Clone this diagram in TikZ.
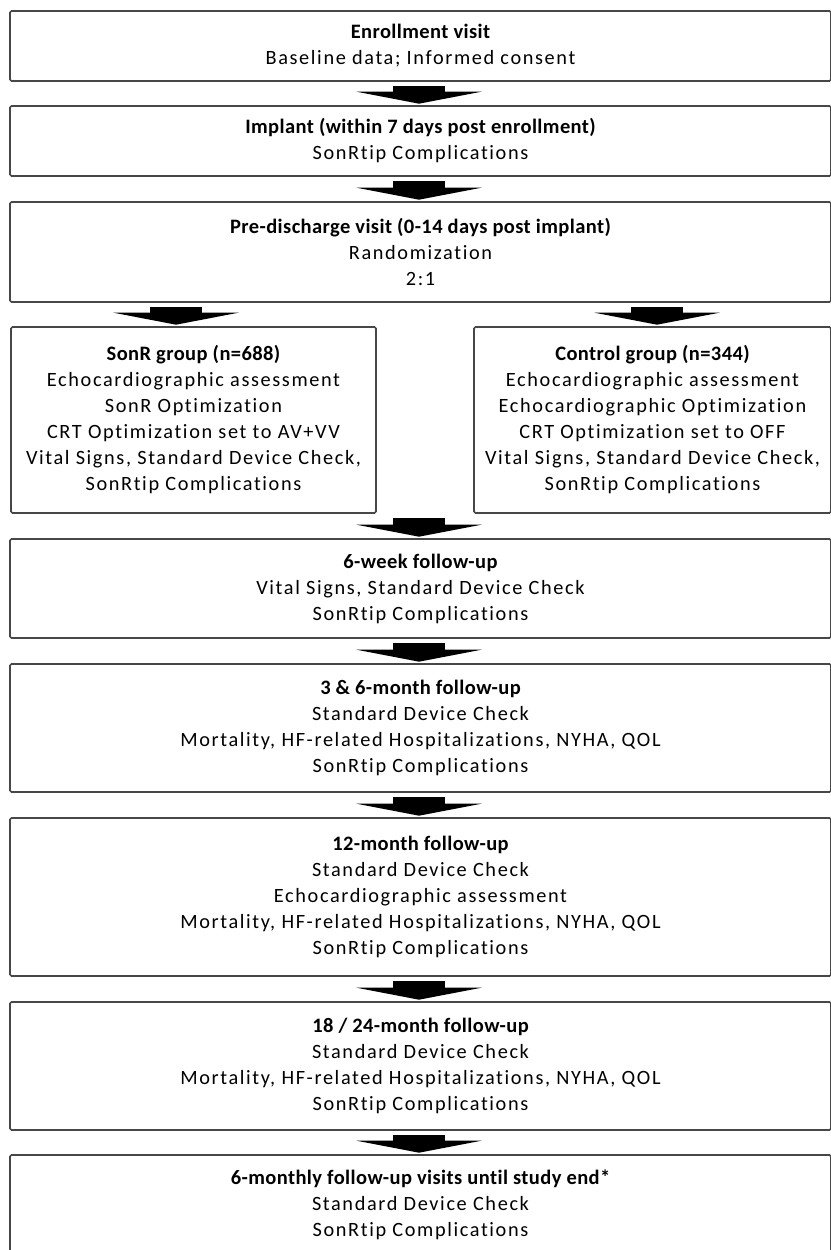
\documentclass[tikz,border=0pt]{standalone}
\usepackage{fontspec}
\setmainfont[Ligatures=NoCommon,LetterSpace=8]{Carlito}
\newfontfamily\ttlfont[Ligatures=NoCommon,LetterSpace=2]{Carlito}
\usetikzlibrary{arrows.meta}
\newcommand{\ttl}[1]{{\ttlfont\fontsize{20.5}{26}\selectfont\bfseries #1}}
\begin{document}
\begin{tikzpicture}[x=1pt,y=-1pt,
  box/.style={draw=black!72, line width=1.6pt, rounded corners=1.5pt, fill=white,
    align=center, inner sep=0pt, font=\fontsize{20.3}{26}\selectfont},
  bigarrow/.style={line width=52pt, black,
    -{Triangle[width=125pt,length=12pt,line width=0pt]},
    shorten <=4.5pt, shorten >=1.5pt}]
\useasboundingbox (0,0) rectangle (830,1250);
\fill[white] (0,0) rectangle (830,1250);
% full-width boxes: x 10 .. 831
\node[box, minimum width=821pt, minimum height=70pt] (n1) at (420.5,46)
  {\ttl{Enrollment visit}\\Baseline data; Informed consent};
\node[box, minimum width=821pt, minimum height=70pt] (n2) at (420.5,141)
  {\ttl{Implant (within 7 days post enrollment)}\\SonRtip Complications};
\node[box, minimum width=821pt, minimum height=100pt] (n3) at (420.5,252)
  {\ttl{Pre-discharge visit (0-14 days post implant)}\\Randomization\\2:1};
\node[box, minimum width=365pt, minimum height=186pt] (nL) at (193.5,420)
  {\ttl{SonR group (n=688)}\\Echocardiographic assessment\\SonR Optimization\\CRT Optimization set to AV+VV\\Vital Signs, Standard Device Check,\\SonRtip Complications};
\node[box, minimum width=357pt, minimum height=186pt] (nR) at (652.5,420)
  {\ttl{Control group (n=344)}\\Echocardiographic assessment\\Echocardiographic Optimization\\CRT Optimization set to OFF\\Vital Signs, Standard Device Check,\\SonRtip Complications};
\node[box, minimum width=821pt, minimum height=99pt] (n4) at (420.5,588.5)
  {\ttl{6-week follow-up}\\Vital Signs, Standard Device Check\\SonRtip Complications};
\node[box, minimum width=821pt, minimum height=128pt] (n5) at (420.5,728)
  {\ttl{3 \& 6-month follow-up}\\Standard Device Check\\Mortality, HF-related Hospitalizations, NYHA, QOL\\SonRtip Complications};
\node[box, minimum width=821pt, minimum height=158pt] (n6) at (420.5,897)
  {\ttl{12-month follow-up}\\Standard Device Check\\Echocardiographic assessment\\Mortality, HF-related Hospitalizations, NYHA, QOL\\SonRtip Complications};
\node[box, minimum width=821pt, minimum height=128pt] (n7) at (420.5,1066)
  {\ttl{18 / 24-month follow-up}\\Standard Device Check\\Mortality, HF-related Hospitalizations, NYHA, QOL\\SonRtip Complications};
\node[box, minimum width=821pt, minimum height=99pt] (n8) at (420.5,1204.5)
  {\ttl{6-monthly follow-up visits until study end*}\\Standard Device Check\\SonRtip Complications};
% arrow axes
\coordinate (ax) at (419,0);
\coordinate (axL) at (176,0);
\coordinate (axR) at (657,0);
\draw[bigarrow] (n1.south -| ax) -- (n2.north -| ax);
\draw[bigarrow] (n2.south -| ax) -- (n3.north -| ax);
\draw[bigarrow] (n3.south -| axL) -- (nL.north -| axL);
\draw[bigarrow] (n3.south -| axR) -- (nR.north -| axR);
\draw[bigarrow] (nL.south -| ax) -- (n4.north -| ax);
\draw[bigarrow] (n4.south -| ax) -- (n5.north -| ax);
\draw[bigarrow] (n5.south -| ax) -- (n6.north -| ax);
\draw[bigarrow] (n6.south -| ax) -- (n7.north -| ax);
\draw[bigarrow] (n7.south -| ax) -- (n8.north -| ax);
\end{tikzpicture}
\end{document}
